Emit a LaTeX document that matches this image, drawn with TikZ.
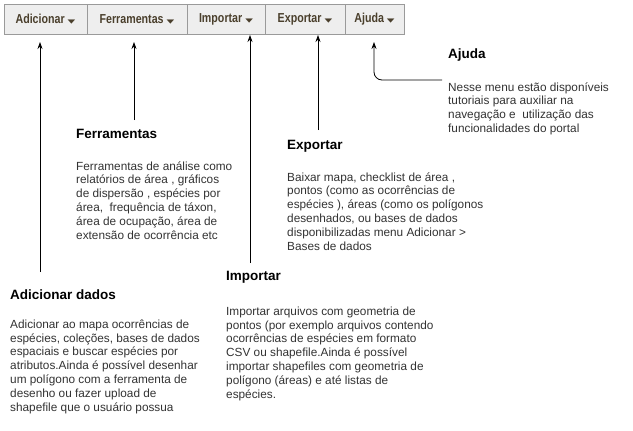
\documentclass[tikz,border=0pt]{standalone}
\usepackage{fontspec}
\usepackage{graphicx}
\setmainfont{Liberation Sans}
\newfontfamily\symfont{DejaVu Sans}
\newfontfamily\menufont[FakeStretch = 0.82]{Liberation Sans}
\usetikzlibrary{arrows.meta, positioning}
\definecolor{menufill}{HTML}{EEEEEE}
\definecolor{menuline}{HTML}{9A9A9A}
\definecolor{menutext}{HTML}{4A3F2C}
\newcommand{\caret}{\hspace{3pt}\scalebox{1}[0.55]{\symfont\fontsize{10}{10}\selectfont ▼}}
\tikzset{
	menucell/.style = {draw = menuline, fill = menufill, line width = 0.8pt, inner sep = 0pt, outer sep = 0pt, minimum height = 30pt, font = \menufont\fontsize{13}{14}\selectfont\bfseries, text = menutext},
	menuarrow/.style = {-{Stealth[length = 7pt, width = 5pt]}, line width = 0.8pt, black},
	titletext/.style = {anchor = base west, inner sep = 0pt, font = \fontsize{13.5}{15}\selectfont\bfseries},
	bodytext/.style = {anchor = base west, inner sep = 0pt, align = left, text = black!80, font = \fontsize{11.8}{13.9}\selectfont}
}

\begin{document}
\begin{tikzpicture}[x = 1pt, y = -1pt]
		\useasboundingbox[fill = white] (0, 0) rectangle (633, 431);
		\foreach \nm/\txt/\xl/\xr in {madic/Adicionar/4/87, mferr/Ferramentas/87/187, mimp/Importar/187/265, mexp/Exportar/265/345, majud/Ajuda/345/404}
			\node[menucell, minimum width = {(\xr - \xl) * 1pt}] (\nm) at ({(\xl + \xr) / 2}, 19) {\txt\caret};
		\coordinate (cadic) at (40, 272);
		\coordinate (cferr) at (134, 120);
		\coordinate (cimp) at (250, 263);
		\coordinate (cexp) at (318, 130);
		\coordinate (cajud) at (442, 80);
		\draw[menuarrow, shorten >= 8pt] (cadic) -- (cadic |- madic.south);
		\draw[menuarrow, shorten >= 8pt] (cferr) -- (cferr |- mferr.south);
		\draw[menuarrow, shorten >= 1pt] (cimp) -- (cimp |- mimp.south);
		\draw[menuarrow, shorten >= 1pt] (cexp) -- (cexp |- mexp.south);
		\draw[menuarrow, shorten >= 8pt, rounded corners = 8pt] (cajud) -- (374, 80) -- (374, 34);
		\node[titletext] (tadic) at (10, 299) {Adicionar dados};
		\node[bodytext] (badic) at (10, 411.5) {Adicionar ao mapa ocorrências de\\espécies, coleções, bases de dados\\espaciais e buscar espécies por\\atributos.Ainda é possível desenhar\\um polígono com a ferramenta de\\desenho ou fazer upload de\\shapefile que o usuário possua};
		\node[titletext] (tferr) at (76, 138) {Ferramentas};
		\node[bodytext] (bferr) at (76, 239.5) {Ferramentas de análise como\\relatórios de área , gráficos\\de dispersão , espécies por\\área,\ \ frequência de táxon,\\área de ocupação, área de\\extensão de ocorrência etc};
		\node[titletext] (timp) at (226, 280) {Importar};
		\node[bodytext] (bimp) at (226, 398.5) {Importar arquivos com geometria de\\pontos (por exemplo arquivos contendo\\ocorrências de espécies em formato\\CSV ou shapefile.Ainda é possível\\importar shapefiles com geometria de\\polígono (áreas) e até listas de\\espécies.};
		\node[titletext] (texp) at (287, 149) {Exportar};
		\node[bodytext] (bexp) at (287, 250.5) {Baixar mapa, checklist de área ,\\pontos (como as ocorrências de\\espécies ), áreas (como os polígonos\\desenhados, ou bases de dados\\disponibilizadas menu Adicionar >\\Bases de dados};
		\node[titletext] (tajud) at (448, 59) {Ajuda};
		\node[bodytext] (bajud) at (448, 132.7) {Nesse menu estão disponíveis\\tutoriais para auxiliar na\\navegação e\ \ utilização das\\funcionalidades do portal};
	\end{tikzpicture}
\end{document}
